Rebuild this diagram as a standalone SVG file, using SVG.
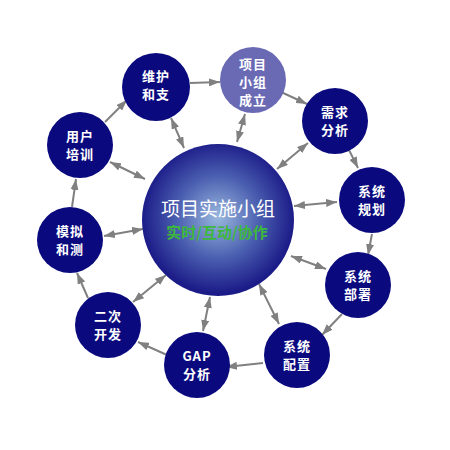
<svg xmlns="http://www.w3.org/2000/svg" width="450" height="450" viewBox="0 0 450 450">
<defs>
<radialGradient id="g" cx="0.5" cy="0.48" r="0.5">
<stop offset="0" stop-color="#9ab8de"/>
<stop offset="0.55" stop-color="#4a5eb0"/>
<stop offset="1" stop-color="#1c1c88"/>
</radialGradient>
<marker id="a" markerUnits="userSpaceOnUse" markerWidth="11" markerHeight="8" refX="11" refY="4" orient="auto-start-reverse">
<path d="M0,0 L11,4 L0,8 z" fill="#808080"/>
</marker>
<style>
.n{fill:#0a0a7e}
.t{fill:#fff;font-family:"Noto Sans CJK SC","DejaVu Sans",sans-serif;font-size:13px;font-weight:bold;text-anchor:middle;letter-spacing:1px}
.c line{stroke:#808080;stroke-width:2;marker-end:url(#a)}
.c .d{marker-start:url(#a)}
</style>
</defs>
<rect width="450" height="450" fill="#fff"/>
<g class="c" id="connectors">
<line x1="190" y1="83" x2="220" y2="82"/>
<line x1="281" y1="92" x2="307" y2="104"/>
<line x1="349" y1="150" x2="358" y2="168"/>
<line x1="372" y1="234" x2="368" y2="255"/>
<line x1="342" y1="314" x2="322" y2="335"/>
<line x1="263" y1="363" x2="226" y2="367"/>
<line x1="167" y1="355" x2="138" y2="342"/>
<line x1="88" y1="298" x2="77" y2="273"/>
<line x1="72" y1="207" x2="76" y2="179"/>
<line x1="105" y1="122" x2="127" y2="100"/>
<line class="d" x1="184" y1="148" x2="171" y2="118"/>
<line class="d" x1="237" y1="142" x2="245" y2="114"/>
<line class="d" x1="277" y1="169" x2="308" y2="143"/>
<line class="d" x1="294" y1="206" x2="337" y2="202"/>
<line class="d" x1="291" y1="256" x2="326" y2="269"/>
<line class="d" x1="259" y1="284" x2="279" y2="324"/>
<line class="d" x1="210" y1="297" x2="203" y2="331"/>
<line class="d" x1="166" y1="275" x2="133" y2="302"/>
<line class="d" x1="143" y1="229" x2="104" y2="236"/>
<line class="d" x1="145" y1="179" x2="110" y2="162"/>
</g>
<g id="center">
<circle cx="218" cy="220" r="76" fill="url(#g)"/>
<text x="218" y="216" class="t" style="font-size:19px;font-weight:normal;letter-spacing:0">项目实施小组</text>
<text x="217" y="238" class="t" style="font-size:15px;fill:#3cb83c;letter-spacing:0">实时/互动/协作</text>
</g>
<g id="n1"><circle class="n" cx="156" cy="87" r="34"/><text class="t" x="156" y="81">维护</text><text class="t" x="156" y="99">和支</text></g>
<g id="n2"><circle cx="253" cy="80" r="33" fill="#6a6ab4"/><text class="t" x="253" y="69">项目</text><text class="t" x="253" y="87">小组</text><text class="t" x="253" y="105">成立</text></g>
<g id="n3"><circle class="n" cx="335" cy="121" r="33"/><text class="t" x="335" y="117">需求</text><text class="t" x="335" y="135">分析</text></g>
<g id="n4"><circle class="n" cx="372" cy="200" r="33"/><text class="t" x="372" y="196">系统</text><text class="t" x="372" y="214">规划</text></g>
<g id="n5"><circle class="n" cx="358" cy="285" r="33"/><text class="t" x="358" y="281">系统</text><text class="t" x="358" y="299">部署</text></g>
<g id="n6"><circle class="n" cx="297" cy="355" r="33"/><text class="t" x="297" y="351">系统</text><text class="t" x="297" y="369">配置</text></g>
<g id="n7"><circle class="n" cx="197" cy="365" r="33"/><text class="t" x="197" y="361">GAP</text><text class="t" x="197" y="379">分析</text></g>
<g id="n8"><circle class="n" cx="108" cy="325" r="33"/><text class="t" x="108" y="321">二次</text><text class="t" x="108" y="339">开发</text></g>
<g id="n9"><circle class="n" cx="70" cy="240" r="33"/><text class="t" x="70" y="236">模拟</text><text class="t" x="70" y="254">和测</text></g>
<g id="n10"><circle class="n" cx="80" cy="145" r="33"/><text class="t" x="80" y="141">用户</text><text class="t" x="80" y="159">培训</text></g>
</svg>
